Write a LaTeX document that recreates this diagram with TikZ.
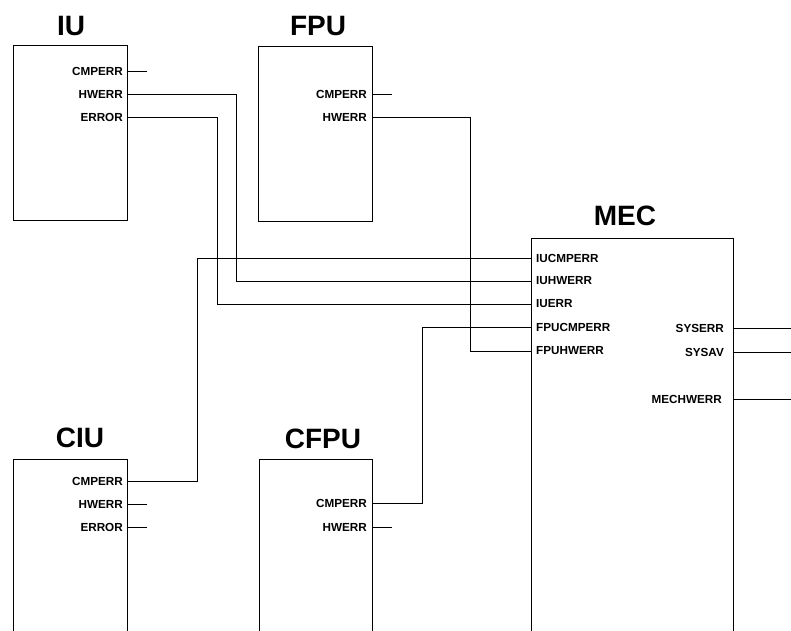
\documentclass[tikz,border=0pt]{standalone}
\usepackage{fontspec}
\setmainfont{Liberation Sans}
\usetikzlibrary{positioning}

\begin{document}
\begin{tikzpicture}[x=1pt, y=-1pt,
    blk/.style={draw, line width=0.8pt, anchor=north west, inner sep=0pt},
    ttl/.style={font=\fontsize{28}{30}\selectfont\bfseries, anchor=base, inner sep=0pt},
    pinlbl/.style={font=\fontsize{11.7}{12}\selectfont\bfseries, inner sep=0pt},
    wire/.style={line width=0.8pt}]
  \clip (0,0) rectangle (791,630);

  % blocks
  \node[blk, minimum width=114pt, minimum height=175pt] (IU) at (13,45) {};
  \node[blk, minimum width=114pt, minimum height=175pt] (FPU) at (258,46) {};
  \node[blk, minimum width=202pt, minimum height=420pt] (MEC) at (531,238) {};
  \node[blk, minimum width=114pt, minimum height=200pt] (CIU) at (13,459) {};
  \node[blk, minimum width=113pt, minimum height=200pt] (CFPU) at (259,459) {};

  \node[ttl] (IUname) at (71,35) {IU};
  \node[ttl] (FPUname) at (318,35) {FPU};
  \node[ttl] (MECname) at (625,225) {MEC};
  \node[ttl] (CIUname) at (80,447) {CIU};
  \node[ttl] (CFPUname) at (323,448) {CFPU};

  % pins on the block edges
  \coordinate (IU-cmp) at (127,71);
  \coordinate (IU-hw) at (127,94);
  \coordinate (IU-err) at (127,117);
  \coordinate (FPU-cmp) at (372,94);
  \coordinate (FPU-hw) at (372,117);
  \coordinate (CIU-cmp) at (127,481);
  \coordinate (CIU-hw) at (127,504);
  \coordinate (CIU-err) at (127,527);
  \coordinate (CFPU-cmp) at (372,503);
  \coordinate (CFPU-hw) at (372,527);
  \coordinate (MEC-iucmp) at (531,258);
  \coordinate (MEC-iuhw) at (531,281);
  \coordinate (MEC-iuerr) at (531,304);
  \coordinate (MEC-fpucmp) at (531,327);
  \coordinate (MEC-fpuhw) at (531,351);
  \coordinate (MEC-syserr) at (733,328);
  \coordinate (MEC-sysav) at (733,352);
  \coordinate (MEC-hw) at (733,399);

  \node[pinlbl, left=4pt of IU-cmp] (IU-cmp-l) {CMPERR};
  \node[pinlbl, left=4pt of IU-hw] (IU-hw-l) {HWERR};
  \node[pinlbl, left=4pt of IU-err] (IU-err-l) {ERROR};
  \node[pinlbl, left=5pt of FPU-cmp] (FPU-cmp-l) {CMPERR};
  \node[pinlbl, left=5pt of FPU-hw] (FPU-hw-l) {HWERR};
  \node[pinlbl, left=4pt of CIU-cmp] (CIU-cmp-l) {CMPERR};
  \node[pinlbl, left=4pt of CIU-hw] (CIU-hw-l) {HWERR};
  \node[pinlbl, left=4pt of CIU-err] (CIU-err-l) {ERROR};
  \node[pinlbl, left=5pt of CFPU-cmp] (CFPU-cmp-l) {CMPERR};
  \node[pinlbl, left=5pt of CFPU-hw] (CFPU-hw-l) {HWERR};
  \node[pinlbl, right=5pt of MEC-iucmp] (MEC-iucmp-l) {IUCMPERR};
  \node[pinlbl, right=5pt of MEC-iuhw] (MEC-iuhw-l) {IUHWERR};
  \node[pinlbl, right=5pt of MEC-iuerr] (MEC-iuerr-l) {IUERR};
  \node[pinlbl, right=5pt of MEC-fpucmp] (MEC-fpucmp-l) {FPUCMPERR};
  \node[pinlbl, right=5pt of MEC-fpuhw] (MEC-fpuhw-l) {FPUHWERR};
  \node[pinlbl, left=9pt of MEC-syserr] (MEC-syserr-l) {SYSERR};
  \node[pinlbl, left=9pt of MEC-sysav] (MEC-sysav-l) {SYSAV};
  \node[pinlbl, left=11pt of MEC-hw] (MEC-hw-l) {MECHWERR};

  % wires
  \draw[wire] (IU-cmp) -- ++(20,0);
  \draw[wire] (IU-hw) -- ++(109,0) |- (MEC-iuhw);
  \draw[wire] (IU-err) -- ++(90,0) |- (MEC-iuerr);
  \draw[wire] (FPU-cmp) -- ++(20,0);
  \draw[wire] (FPU-hw) -- ++(98,0) |- (MEC-fpuhw);
  \draw[wire] (CIU-cmp) -- ++(70,0) |- (MEC-iucmp);
  \draw[wire] (CIU-hw) -- ++(20,0);
  \draw[wire] (CIU-err) -- ++(20,0);
  \draw[wire] (CFPU-cmp) -- ++(50,0) |- (MEC-fpucmp);
  \draw[wire] (CFPU-hw) -- ++(20,0);
  \draw[wire] (MEC-syserr) -- ++(60,0);
  \draw[wire] (MEC-sysav) -- ++(60,0);
  \draw[wire] (MEC-hw) -- ++(60,0);
\end{tikzpicture}
\end{document}
